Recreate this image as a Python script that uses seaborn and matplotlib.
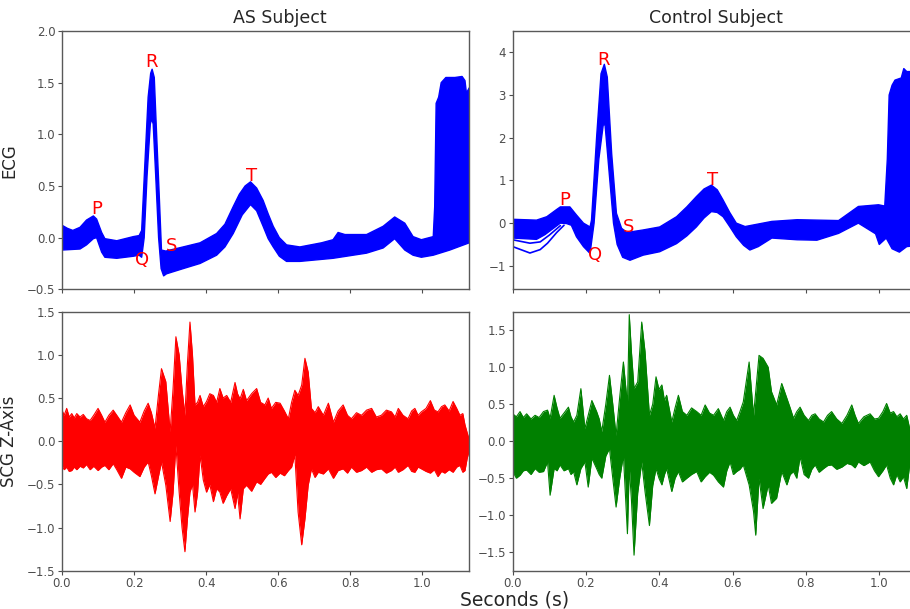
import numpy as np
import pandas as pd
import matplotlib
matplotlib.use("Agg")
import matplotlib.pyplot as plt
import seaborn as sns

sns.set_style("ticks", {"axes.edgecolor": ".35", "xtick.color": ".3", "ytick.color": ".3"})
plt.rcParams.update({
    "font.family": ["DejaVu Sans"],
    "font.size": 9,
    "xtick.labelsize": 8.5,
    "ytick.labelsize": 8.5,
    "xtick.major.size": 2.8,
    "ytick.major.size": 2.8,
    "xtick.major.pad": 1.8,
    "ytick.major.pad": 2.0,
    "axes.linewidth": 1.0,
})

######## ECG band outlines ########
# AS subject: upper edge and lower edge of the beat bundle
ecg_as_top_t = [0.000, 0.015, 0.030, 0.050, 0.068, 0.087, 0.096, 0.110, 0.119, 0.152,
                0.198, 0.214, 0.221, 0.230, 0.239, 0.246, 0.250, 0.256, 0.262, 0.270,
                0.276, 0.288, 0.336, 0.383, 0.429, 0.452, 0.475, 0.492, 0.508, 0.523,
                0.540, 0.558, 0.572, 0.586, 0.603, 0.623, 0.660, 0.720, 0.752, 0.766,
                0.785, 0.845, 0.891, 0.923, 0.951, 0.974, 0.997, 1.030, 1.034, 1.038,
                1.045, 1.052, 1.065, 1.090, 1.110, 1.118, 1.122, 1.130]
ecg_as_top_v = [0.12, 0.09, 0.07, 0.10, 0.17, 0.21, 0.18, 0.05, -0.01, -0.03,
                0.01, 0.02, 0.07, 0.72, 1.36, 1.59, 1.63, 1.55, 1.04, 0.39,
                -0.12, -0.13, -0.09, -0.05, 0.04, 0.13, 0.30, 0.42, 0.50, 0.54,
                0.48, 0.36, 0.23, 0.11, 0.00, -0.07, -0.09, -0.05, -0.02, 0.05,
                0.03, 0.03, 0.11, 0.20, 0.14, 0.01, -0.02, 0.01, 0.30, 1.30,
                1.36, 1.50, 1.55, 1.55, 1.56, 1.52, 1.40, 1.45]
ecg_as_bot_t = [0.000, 0.050, 0.068, 0.087, 0.096, 0.110, 0.119, 0.152, 0.198, 0.214,
                0.221, 0.228, 0.236, 0.245, 0.249, 0.253, 0.260, 0.268, 0.275, 0.282,
                0.290, 0.336, 0.383, 0.429, 0.452, 0.475, 0.500, 0.523, 0.540, 0.558,
                0.572, 0.586, 0.603, 0.623, 0.660, 0.752, 0.845, 0.891, 0.923, 0.951,
                0.974, 0.997, 1.030, 1.076, 1.099, 1.130]
ecg_as_bot_v = [-0.12, -0.11, -0.07, -0.01, 0.00, -0.14, -0.19, -0.20, -0.18, -0.17,
                -0.19, 0.00, 0.60, 1.10, 1.15, 1.10, 0.60, 0.00, -0.30, -0.37,
                -0.35, -0.30, -0.25, -0.17, -0.09, 0.04, 0.22, 0.32, 0.26, 0.11,
                -0.01, -0.09, -0.18, -0.23, -0.23, -0.20, -0.15, -0.10, -0.01, -0.12,
                -0.17, -0.19, -0.17, -0.12, -0.09, -0.05]

# Control subject
ecg_ct_top_t = [0.000, 0.065, 0.093, 0.120, 0.130, 0.156, 0.174, 0.193, 0.211, 0.215,
                0.229, 0.241, 0.250, 0.258, 0.270, 0.283, 0.297, 0.311, 0.356, 0.401,
                0.447, 0.475, 0.501, 0.522, 0.542, 0.558, 0.574, 0.592, 0.610, 0.634,
                0.707, 0.776, 0.889, 0.943, 0.998, 1.015, 1.022, 1.027, 1.035, 1.043,
                1.060, 1.067, 1.075, 1.130]
ecg_ct_top_v = [0.09, 0.07, 0.15, 0.32, 0.38, 0.38, 0.19, 0.00, -0.09, 0.07,
                2.02, 3.50, 3.72, 3.42, 1.63, 0.23, -0.12, -0.22, -0.16, -0.09,
                0.15, 0.38, 0.62, 0.80, 0.89, 0.78, 0.54, 0.25, 0.00, -0.08,
                0.04, 0.08, 0.06, 0.39, 0.43, 0.40, 1.50, 3.00, 3.23, 3.35,
                3.40, 3.62, 3.55, 3.55]
ecg_ct_bot_t = [0.000, 0.065, 0.088, 0.130, 0.147, 0.160, 0.174, 0.193, 0.211, 0.222,
                0.235, 0.247, 0.252, 0.260, 0.275, 0.285, 0.300, 0.320, 0.356, 0.401,
                0.447, 0.475, 0.501, 0.522, 0.542, 0.558, 0.574, 0.592, 0.610, 0.630,
                0.647, 0.670, 0.707, 0.776, 0.830, 0.889, 0.943, 0.990, 1.000, 1.019,
                1.035, 1.055, 1.075, 1.130]
ecg_ct_bot_v = [-0.35, -0.38, -0.27, 0.00, -0.01, -0.05, -0.32, -0.55, -0.71, 0.00,
                1.50, 2.30, 2.30, 1.50, 0.00, -0.50, -0.80, -0.87, -0.75, -0.67,
                -0.48, -0.30, -0.09, 0.12, 0.27, 0.25, 0.15, -0.08, -0.32, -0.52,
                -0.63, -0.55, -0.35, -0.39, -0.40, -0.24, 0.00, -0.25, -0.50, -0.35,
                -0.60, -0.68, -0.55, -0.50]
# two low outlier beats at the start of the control window
ecg_ct_out1_t = [0.000, 0.047, 0.075, 0.095, 0.120, 0.140]
ecg_ct_out1_v = [-0.55, -0.70, -0.62, -0.47, -0.22, -0.05]
ecg_ct_out2_t = [0.000, 0.047, 0.075, 0.100, 0.130]
ecg_ct_out2_v = [-0.39, -0.47, -0.44, -0.28, -0.06]

# wave labels: letter, time, value
wave_names = ["P", "Q", "R", "S", "T"]
lab_as_t = [0.096, 0.221, 0.249, 0.304, 0.526]
lab_as_v = [0.28, -0.22, 1.70, -0.08, 0.60]
lab_ct_t = [0.141, 0.224, 0.247, 0.317, 0.545]
lab_ct_v = [0.54, -0.75, 3.83, -0.09, 1.02]

######## SCG envelopes (max / min of the overlaid beats) ########
scg_as_t = [0.000, 0.006, 0.013, 0.020, 0.027, 0.034, 0.041, 0.050, 0.059, 0.068,
            0.078, 0.088, 0.100, 0.110, 0.119, 0.130, 0.142, 0.152, 0.165, 0.177,
            0.189, 0.200, 0.216, 0.228, 0.239, 0.248, 0.258, 0.268, 0.276, 0.288,
            0.300, 0.308, 0.316, 0.325, 0.333, 0.341, 0.348, 0.355, 0.362, 0.369,
            0.376, 0.383, 0.392, 0.401, 0.410, 0.420, 0.429, 0.438, 0.447, 0.457,
            0.468, 0.480, 0.487, 0.494, 0.503, 0.512, 0.526, 0.540, 0.551, 0.563,
            0.572, 0.581, 0.593, 0.605, 0.617, 0.628, 0.637, 0.646, 0.655, 0.665,
            0.674, 0.683, 0.692, 0.702, 0.711, 0.725, 0.739, 0.753, 0.766, 0.780,
            0.792, 0.803, 0.817, 0.831, 0.845, 0.859, 0.872, 0.886, 0.900, 0.914,
            0.924, 0.933, 0.946, 0.960, 0.970, 0.979, 0.988, 0.997, 1.010, 1.022,
            1.033, 1.043, 1.053, 1.062, 1.074, 1.085, 1.095, 1.104, 1.112, 1.118,
            1.124, 1.129]
scg_as_hi = [0.36, 0.30, 0.38, 0.28, 0.32, 0.27, 0.32, 0.28, 0.31, 0.26,
             0.24, 0.30, 0.38, 0.30, 0.22, 0.30, 0.36, 0.30, 0.22, 0.33,
             0.42, 0.30, 0.22, 0.35, 0.44, 0.33, 0.15, 0.55, 0.84, 0.69,
             0.11, 0.60, 1.21, 1.00, 0.60, 0.30, 0.90, 1.38, 1.00, 0.42,
             0.45, 0.53, 0.40, 0.46, 0.55, 0.53, 0.45, 0.61, 0.50, 0.53,
             0.45, 0.68, 0.55, 0.49, 0.60, 0.47, 0.55, 0.61, 0.45, 0.42,
             0.50, 0.38, 0.45, 0.44, 0.35, 0.26, 0.45, 0.59, 0.53, 0.65,
             0.96, 0.80, 0.38, 0.33, 0.40, 0.30, 0.44, 0.22, 0.35, 0.42,
             0.30, 0.26, 0.33, 0.30, 0.36, 0.38, 0.28, 0.30, 0.36, 0.34,
             0.28, 0.38, 0.30, 0.26, 0.35, 0.38, 0.30, 0.34, 0.38, 0.47,
             0.36, 0.34, 0.40, 0.42, 0.35, 0.46, 0.38, 0.30, 0.32, 0.19,
             0.10, 0.03]
scg_as_lo = [-0.28, -0.33, -0.30, -0.35, -0.34, -0.30, -0.33, -0.29, -0.31, -0.27,
             -0.33, -0.29, -0.34, -0.30, -0.28, -0.33, -0.26, -0.33, -0.43, -0.30,
             -0.32, -0.36, -0.41, -0.30, -0.24, -0.40, -0.61, -0.40, -0.24, -0.51,
             -0.93, -0.60, -0.05, -0.59, -1.00, -1.28, -0.90, -0.59, -0.50, -0.82,
             -0.60, -0.16, -0.45, -0.59, -0.50, -0.70, -0.55, -0.59, -0.72, -0.63,
             -0.55, -0.78, -0.60, -0.90, -0.55, -0.51, -0.58, -0.47, -0.50, -0.43,
             -0.38, -0.36, -0.42, -0.37, -0.40, -0.34, -0.30, -0.16, -0.82, -1.20,
             -0.90, -0.51, -0.32, -0.42, -0.36, -0.38, -0.32, -0.43, -0.34, -0.32,
             -0.37, -0.30, -0.36, -0.34, -0.30, -0.36, -0.33, -0.32, -0.37, -0.34,
             -0.30, -0.36, -0.33, -0.28, -0.35, -0.36, -0.30, -0.32, -0.35, -0.37,
             -0.33, -0.41, -0.35, -0.37, -0.33, -0.36, -0.30, -0.28, -0.36, -0.34,
             -0.20, -0.12]

scg_ct_t = [0.000, 0.010, 0.020, 0.029, 0.038, 0.050, 0.061, 0.072, 0.084, 0.095,
            0.102, 0.113, 0.121, 0.129, 0.140, 0.152, 0.159, 0.166, 0.175, 0.186,
            0.197, 0.206, 0.216, 0.229, 0.236, 0.243, 0.254, 0.264, 0.273, 0.282,
            0.292, 0.302, 0.313, 0.318, 0.324, 0.331, 0.341, 0.352, 0.361, 0.373,
            0.382, 0.391, 0.399, 0.407, 0.414, 0.420, 0.434, 0.443, 0.452, 0.463,
            0.475, 0.488, 0.502, 0.514, 0.525, 0.537, 0.548, 0.561, 0.575, 0.584,
            0.593, 0.602, 0.611, 0.620, 0.629, 0.645, 0.657, 0.663, 0.672, 0.683,
            0.697, 0.706, 0.720, 0.734, 0.748, 0.757, 0.766, 0.775, 0.784, 0.795,
            0.807, 0.816, 0.825, 0.836, 0.848, 0.859, 0.870, 0.884, 0.898, 0.912,
            0.925, 0.934, 0.943, 0.958, 0.975, 0.987, 0.998, 1.010, 1.020, 1.030,
            1.039, 1.048, 1.057, 1.066, 1.075, 1.084, 1.130]
scg_ct_hi = [0.37, 0.33, 0.40, 0.32, 0.37, 0.30, 0.35, 0.32, 0.40, 0.42,
             0.31, 0.62, 0.45, 0.31, 0.38, 0.46, 0.33, 0.26, 0.35, 0.71,
             0.17, 0.35, 0.55, 0.40, 0.30, 0.13, 0.50, 0.89, 0.50, 0.08,
             0.60, 1.07, 0.49, 1.71, 1.20, 0.71, 0.80, 1.61, 1.21, 0.35,
             0.50, 0.87, 0.70, 0.76, 0.55, 0.62, 0.26, 0.45, 0.62, 0.40,
             0.35, 0.45, 0.40, 0.35, 0.49, 0.38, 0.35, 0.44, 0.28, 0.40,
             0.46, 0.35, 0.28, 0.40, 0.53, 1.07, 0.35, 0.67, 1.16, 1.12,
             1.00, 0.67, 0.49, 0.78, 0.58, 0.45, 0.31, 0.40, 0.46, 0.35,
             0.28, 0.35, 0.37, 0.30, 0.26, 0.35, 0.40, 0.30, 0.24, 0.35,
             0.49, 0.35, 0.24, 0.33, 0.37, 0.30, 0.31, 0.40, 0.51, 0.38,
             0.40, 0.33, 0.37, 0.30, 0.35, 0.15, 0.15]
scg_ct_lo = [-0.41, -0.50, -0.46, -0.40, -0.39, -0.45, -0.37, -0.42, -0.41, -0.28,
             -0.73, -0.37, -0.40, -0.32, -0.40, -0.37, -0.45, -0.41, -0.59, -0.37,
             -0.28, -0.62, -0.23, -0.37, -0.45, -0.50, -0.20, -0.10, -0.50, -0.89,
             -0.50, -0.19, -1.25, -0.35, -0.80, -1.54, -0.70, -0.28, -0.68, -1.14,
             -0.60, -0.37, -0.50, -0.59, -0.45, -0.37, -0.68, -0.50, -0.41, -0.55,
             -0.50, -0.45, -0.41, -0.55, -0.48, -0.42, -0.46, -0.55, -0.62, -0.40,
             -0.28, -0.45, -0.41, -0.38, -0.32, -0.59, -0.95, -1.27, -0.50, -0.91,
             -0.59, -0.84, -0.77, -0.41, -0.59, -0.45, -0.41, -0.50, -0.21, -0.45,
             -0.50, -0.38, -0.32, -0.42, -0.37, -0.33, -0.32, -0.38, -0.35, -0.30,
             -0.32, -0.36, -0.28, -0.33, -0.28, -0.40, -0.48, -0.40, -0.32, -0.50,
             -0.59, -0.45, -0.55, -0.48, -0.64, -0.28, -0.28]

W, H = 910, 609
fig = plt.figure(figsize=(W / 100, H / 100), dpi=100)


def box(x0, y0, x1, y1):
    # pixel box -> figure fraction
    return [x0 / W, 1 - y1 / H, (x1 - x0) / W, (y1 - y0) / H]


ax_ecg_as = fig.add_axes(box(62, 31, 469.3, 289.3))
ax_ecg_ct = fig.add_axes(box(512.7, 31, 926.9, 289.3))
ax_scg_as = fig.add_axes(box(62, 311.7, 469.3, 570.7))
ax_scg_ct = fig.add_axes(box(512.7, 311.7, 926.9, 570.7))


def draw_band(ax, top_t, top_v, bot_t, bot_v, color):
    # polygon: top edge left->right, bottom edge right->left
    xs = list(top_t) + list(bot_t)[::-1]
    ys = list(top_v) + list(bot_v)[::-1]
    ax.fill(xs, ys, color=color, lw=0)
    sns.lineplot(x=top_t, y=top_v, sort=False, color=color, lw=1, ax=ax)
    sns.lineplot(x=bot_t, y=bot_v, sort=False, color=color, lw=1, ax=ax)


draw_band(ax_ecg_as, ecg_as_top_t, ecg_as_top_v, ecg_as_bot_t, ecg_as_bot_v, "#0000ff")
draw_band(ax_ecg_ct, ecg_ct_top_t, ecg_ct_top_v, ecg_ct_bot_t, ecg_ct_bot_v, "#0000ff")
sns.lineplot(x=ecg_ct_out1_t, y=ecg_ct_out1_v, sort=False, color="#0000ff", lw=1.2, ax=ax_ecg_ct)
sns.lineplot(x=ecg_ct_out2_t, y=ecg_ct_out2_v, sort=False, color="#0000ff", lw=1.2, ax=ax_ecg_ct)

for name, t, v in zip(wave_names, lab_as_t, lab_as_v):
    ax_ecg_as.text(t, v, name, color="red", fontsize=13, ha="center", va="center")
for name, t, v in zip(wave_names, lab_ct_t, lab_ct_v):
    ax_ecg_ct.text(t, v, name, color="red", fontsize=13, ha="center", va="center")

scg_as = pd.DataFrame({"t": scg_as_t, "hi": scg_as_hi, "lo": scg_as_lo})
scg_ct = pd.DataFrame({"t": scg_ct_t, "hi": scg_ct_hi, "lo": scg_ct_lo})
for ax, df, col in [(ax_scg_as, scg_as, "#ff0000"), (ax_scg_ct, scg_ct, "#008000")]:
    ax.fill_between(df["t"], df["lo"], df["hi"], color=col, lw=0)
    sns.lineplot(data=df, x="t", y="hi", color=col, lw=0.8, ax=ax)
    sns.lineplot(data=df, x="t", y="lo", color=col, lw=0.8, ax=ax)

ax_ecg_as.set_ylim(-0.5, 2.0)
ax_ecg_ct.set_ylim(-1.55, 4.5)
ax_scg_as.set_ylim(-1.5, 1.5)
ax_scg_ct.set_ylim(-1.75, 1.75)
ax_ecg_ct.set_yticks([-1, 0, 1, 2, 3, 4])
ax_scg_ct.set_yticks([-1.5, -1.0, -0.5, 0.0, 0.5, 1.0, 1.5])

xticks = [0.0, 0.2, 0.4, 0.6, 0.8, 1.0]
for ax in [ax_ecg_as, ax_ecg_ct, ax_scg_as, ax_scg_ct]:
    ax.set_xlim(0, 1.13)
    ax.set_xticks(xticks)
    ax.set_xlabel("")
    ax.set_ylabel("")
    for s in ax.spines.values():
        s.set_visible(True)
for ax in [ax_ecg_as, ax_ecg_ct]:
    ax.set_xticklabels([])
for ax in [ax_scg_as, ax_scg_ct]:
    ax.set_xticklabels([f"{x:.1f}" for x in xticks])

ax_ecg_as.set_title("AS Subject", fontsize=12.5, x=(280 - 62) / 407.3)
ax_ecg_ct.set_title("Control Subject", fontsize=12.5, x=(716 - 512.7) / 414.2)
ax_ecg_as.set_ylabel("ECG", fontsize=12)
ax_scg_as.set_ylabel("SCG Z-Axis", fontsize=12)
ax_ecg_as.yaxis.set_label_coords(-0.108, 0.5)
ax_scg_as.yaxis.set_label_coords(-0.108, 0.5)

fig.text(515 / W, 1 - 599.5 / H, "Seconds (s)", fontsize=13.5, ha="center", va="center")

fig.savefig("out.png", dpi=100)
